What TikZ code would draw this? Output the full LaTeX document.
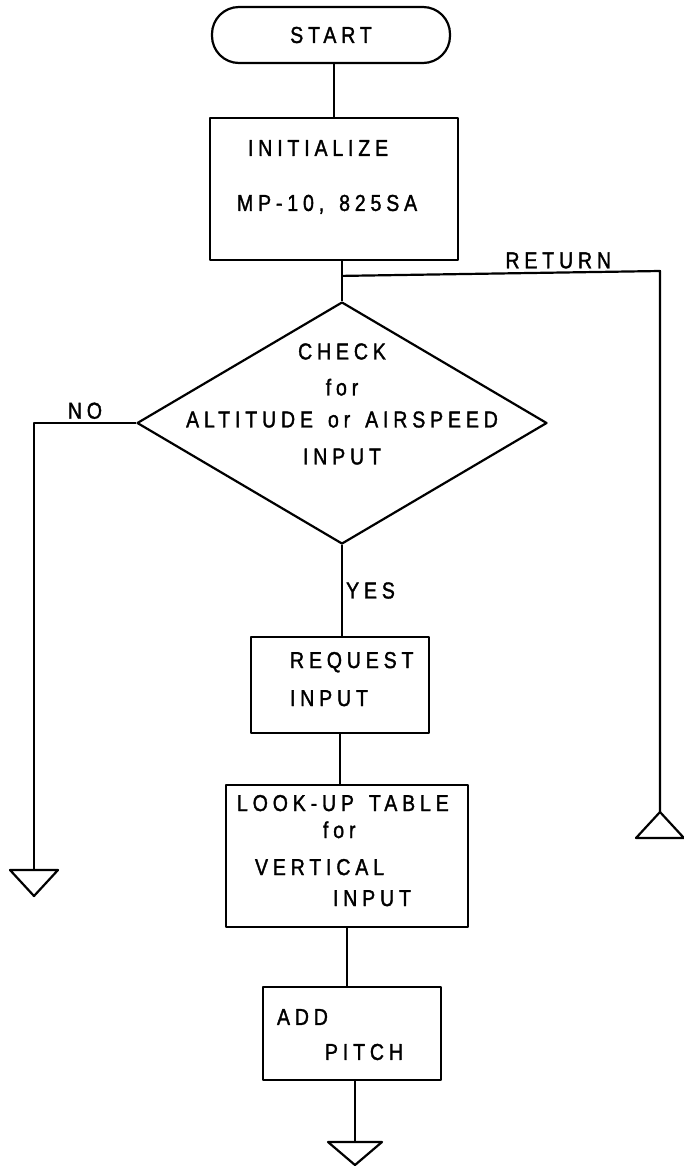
\documentclass[tikz,border=0pt]{standalone}
\usepackage{fontspec}
\setmainfont{Liberation Sans}
\newfontfamily\lettering[LetterSpace=21, FakeStretch=0.85, FakeBold=1.5]{Liberation Sans}
\newcommand\wsp{\hspace{15pt}}
\usetikzlibrary{shapes.geometric, positioning, calc}

\begin{document}
\begin{tikzpicture}[x=1pt, y=-1pt, line width=2.2pt, line join=round,
  every node/.style={font=\lettering\fontsize{23}{23}\selectfont},
  procbox/.style={draw, rectangle, inner xsep=0pt, inner ysep=0pt, align=left},
  decision/.style={draw, diamond, inner sep=0pt},
  flowlabel/.style={inner sep=3pt}]
\useasboundingbox (0,0) rectangle (684,1168);

% boxes
\node[draw, rounded corners=27pt, minimum width=238pt, minimum height=56pt] (start) at (331,35) {START};
\node[procbox, minimum width=248pt, text width=248pt, minimum height=142pt, text depth=82pt] (init) at (334,189)
  {\hspace*{38pt}INITIALIZE\\[32pt]\hspace*{27pt}MP-10,\wsp 825SA};
\node[decision, minimum width=410pt, minimum height=242pt] (check) at (342,423) {};
\node[align=center] (checktxt) at (342,404) {CHECK\\[13pt]for\\[9pt]ALTITUDE\wsp or\wsp AIRSPEED\\[14pt]INPUT};
\node[procbox, minimum width=178pt, text width=178pt, minimum height=96pt, text depth=50pt] (req) at (340,685)
  {\hspace*{39pt}REQUEST\\[15pt]\hspace*{39pt}INPUT};
\node[procbox, minimum width=242pt, text width=242pt, minimum height=142pt, text depth=106pt] (look) at (347,856)
  {\hspace*{11pt}LOOK-UP\wsp TABLE\\[4pt]\hspace*{97pt}for\\[14pt]\hspace*{29pt}VERTICAL\\[8pt]\hspace*{107pt}INPUT};
\node[procbox, minimum width=178pt, text width=178pt, minimum height=93pt, text depth=33pt] (add) at (352,1033.5)
  {\hspace*{14pt}ADD\\[12pt]\hspace*{62pt}PITCH};

% off-page connectors
\coordinate (retjoin) at ($(check.north)+(0,-25)$);
\coordinate (retcorner) at (660,271);
\coordinate (offR) at (660,812);
\coordinate (offL) at (34,870);
\coordinate (offB) at (355,1142);

% connectors
\draw (init.north) -- (init.north |- start.south);
\draw (check.north) -- (check.north |- init.south);
\draw (retjoin) -- node[flowlabel, above, pos=0.68] (retlbl) {RETURN} (retcorner) -- (offR);
\draw (check.west) -- node[flowlabel, above, pos=0.5] (nolbl) {NO} (check.west -| offL) -- (offL);
\draw (check.south) -- node[flowlabel, right, pos=0.5] (yeslbl) {YES} (check.south |- req.north);
\draw (req.south) -- (req.south |- look.north);
\draw (look.south) -- (look.south |- add.north);
\draw (offB |- add.south) -- (offB);

\draw (offR) -- ++(-24,26) -- ++(48,0) -- cycle;
\draw (offL) -- ++(-24,0) -- ++(24,26) -- ++(24,-26) -- cycle;
\draw (offB) -- ++(-27,0) -- ++(27,23) -- ++(27,-23) -- cycle;
\end{tikzpicture}
\end{document}
